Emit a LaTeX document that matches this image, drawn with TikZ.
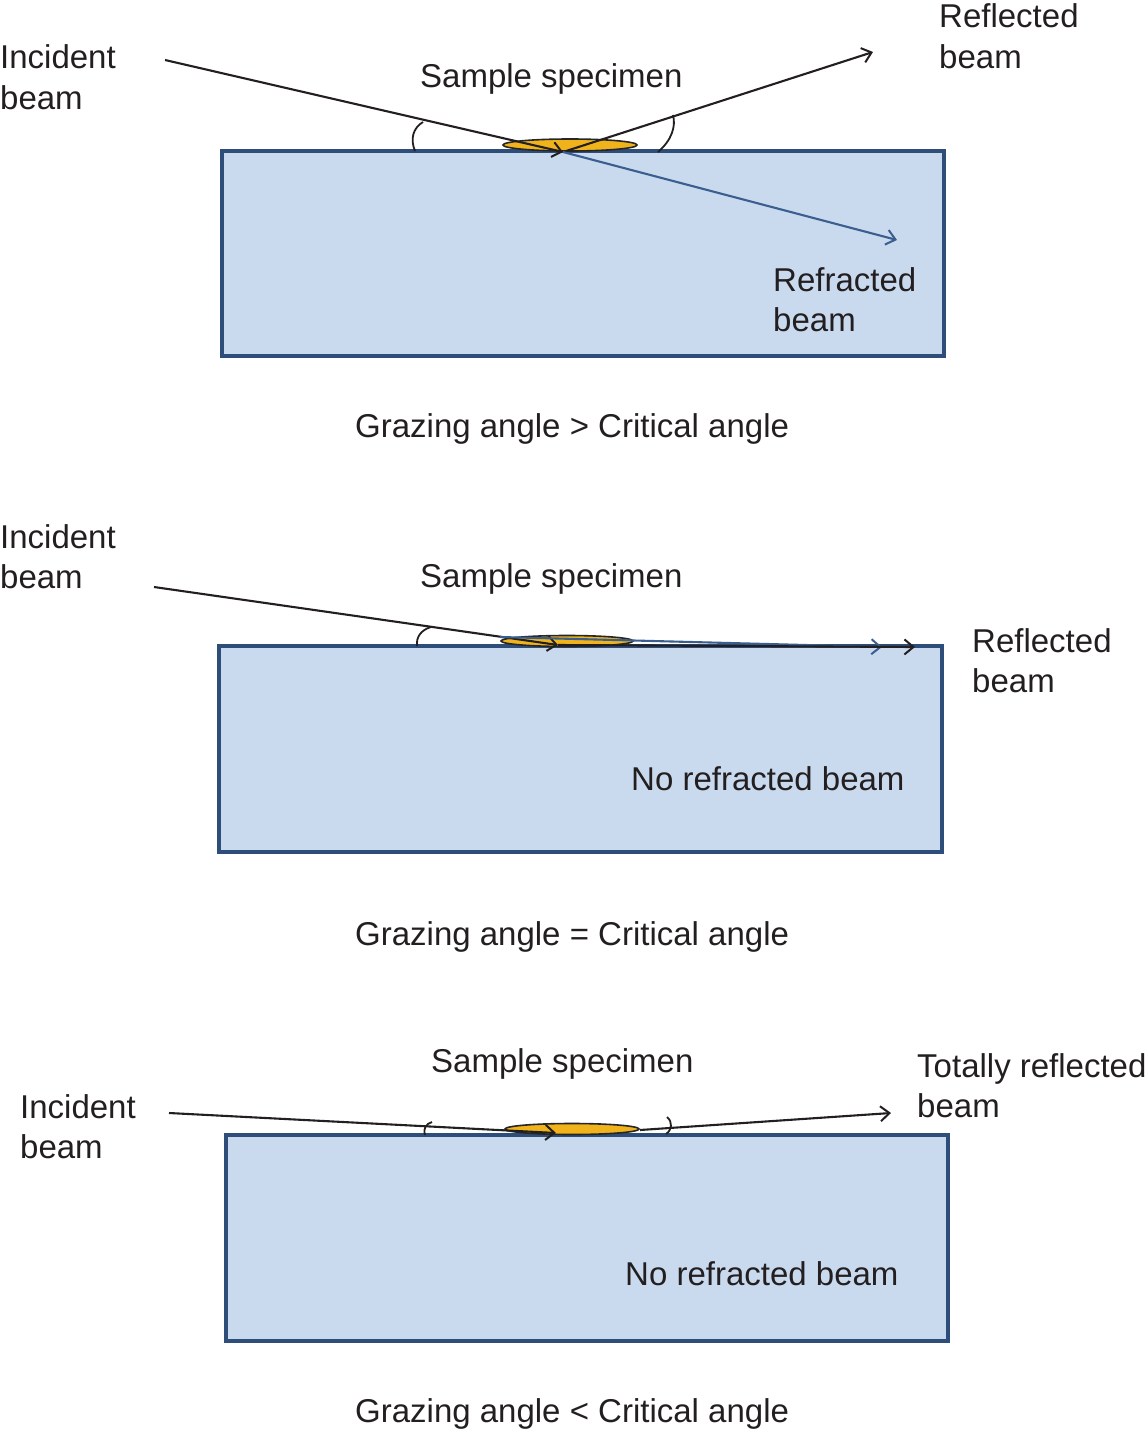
\documentclass[tikz,border=0pt]{standalone}
\usepackage{fontspec}
\setmainfont{Liberation Sans}
\usetikzlibrary{arrows.meta}
\definecolor{txt}{HTML}{231F20}
\definecolor{boxfill}{HTML}{C9DAEF}
\definecolor{boxline}{HTML}{2E4D78}
\definecolor{samplefill}{HTML}{F0B31C}
\definecolor{refr}{HTML}{3A5E8E}
\tikzset{
  lbl/.style={anchor=base west,inner sep=0pt,text=txt,font=\fontsize{33}{40}\selectfont,align=left},
  medium/.style={draw=boxline,line width=3.5pt,fill=boxfill},
  sample/.style={draw=black!85,line width=1.6pt,fill=samplefill},
  beam/.style={draw=txt,line width=2.1pt,-{Straight Barb[length=9pt,width=15pt,line width=2pt]}},
  rbeam/.style={draw=refr,line width=2.1pt,-{Straight Barb[length=9pt,width=15pt,line width=2pt]}},
  anglearc/.style={draw=txt,line width=1.8pt}
}
\begin{document}
\begin{tikzpicture}[x=1pt,y=-1pt]
\useasboundingbox (0,0) rectangle (1146,1429);
% ---------- Panel 1 ----------
\draw[medium] (222,151) rectangle (944,356);
\draw[sample] (570,145) ellipse [x radius=67pt, y radius=6pt];
\coordinate (i1s) at (165,60);
\coordinate (p1) at (563,152);
\coordinate (r1e) at (873,52);
\coordinate (f1e) at (897,240);
\draw[beam] (i1s) -- (p1);
\draw[beam] (p1) -- (r1e);
\draw[rbeam] (p1) -- (f1e);
\draw[anglearc] (415,151) .. controls (410,139) and (413,128) .. (423,122);
\draw[anglearc] (658,152) .. controls (672,140) and (676,126) .. (673,115);
\node[lbl] (inc1) at (0,109) {Incident\\beam};
\node[lbl] (samp1) at (420,87) {Sample specimen};
\node[lbl] (refl1) at (939,68) {Reflected\\beam};
\node[lbl] (refr1) at (773,331) {Refracted\\beam};
\node[lbl] (cap1) at (355,437) {Grazing angle > Critical angle};
% ---------- Panel 2 ----------
\draw[medium] (219,646) rectangle (942,852);
\draw[sample] (567,641) ellipse [x radius=66pt, y radius=5.5pt];
\coordinate (i2s) at (154,587);
\coordinate (p2) at (558,645);
\coordinate (b2s) at (500,637);
\coordinate (b2e) at (882,647);
\coordinate (r2e) at (915,647);
\draw[beam] (i2s) -- (p2);
\draw[rbeam] (b2s) -- (b2e);
\draw[beam] (p2) -- (r2e);
\draw[anglearc] (417,646) .. controls (416,637) and (421,630) .. (431,627);
\node[lbl] (inc2) at (0,588) {Incident\\beam};
\node[lbl] (samp2) at (420,587) {Sample specimen};
\node[lbl] (refl2) at (972,692) {Reflected\\beam};
\node[lbl] (nor2) at (631,790) {No refracted beam};
\node[lbl] (cap2) at (355,945) {Grazing angle = Critical angle};
% ---------- Panel 3 ----------
\draw[medium] (226,1135) rectangle (948,1341);
\draw[sample] (572,1129) ellipse [x radius=67pt, y radius=5.5pt];
\coordinate (i3s) at (169,1113);
\coordinate (p3) at (556,1133);
\coordinate (r3s) at (640,1130);
\coordinate (r3e) at (891,1113);
\draw[beam] (i3s) -- (p3);
\draw[beam] (r3s) -- (r3e);
\draw[anglearc] (425,1135) .. controls (423,1128) and (426,1124) .. (432,1122);
\draw[anglearc] (666,1134) .. controls (672,1130) and (673,1122) .. (667,1117);
\node[lbl] (inc3) at (20,1158) {Incident\\beam};
\node[lbl] (samp3) at (431,1072) {Sample specimen};
\node[lbl] (refl3) at (917,1117) {Totally reflected\\beam};
\node[lbl] (nor3) at (625,1285) {No refracted beam};
\node[lbl] (cap3) at (355,1422) {Grazing angle < Critical angle};
\end{tikzpicture}
\end{document}
